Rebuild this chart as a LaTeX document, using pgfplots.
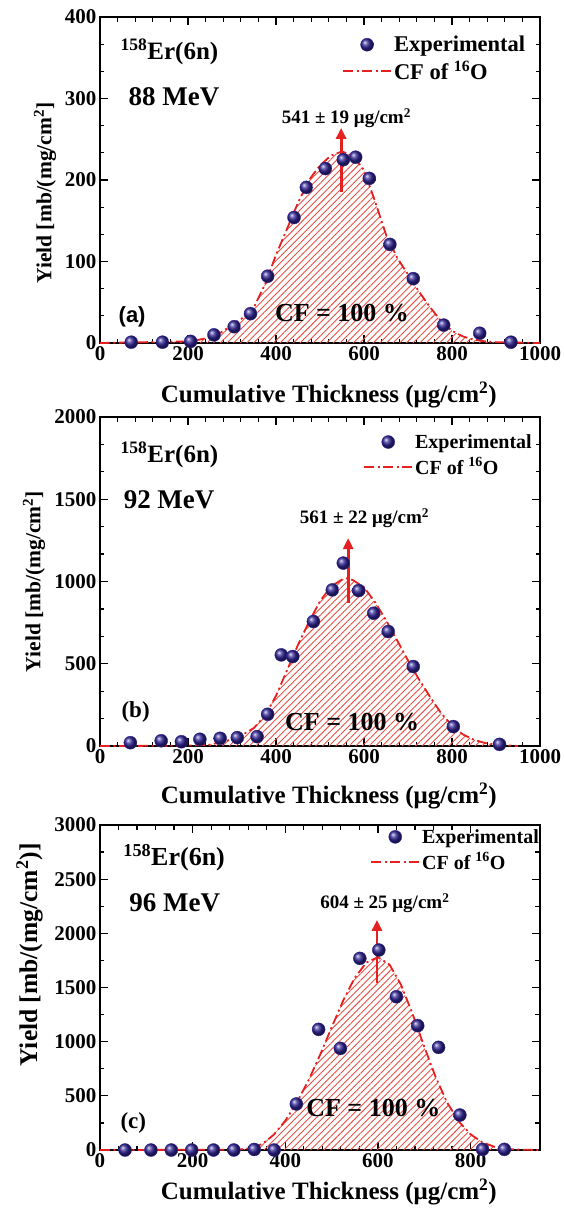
\documentclass[border=0pt]{standalone}
\usepackage{fontspec}
\setmainfont{Liberation Serif}
\newfontfamily\arialfont{Liberation Sans}
\usepackage{pgfplots}
\pgfplotsset{compat=1.18}
\usetikzlibrary{patterns.meta,arrows.meta}
\definecolor{ballblue}{RGB}{50,38,150}
\definecolor{cfred}{RGB}{228,32,32}
\definecolor{hatchred}{RGB}{232,80,70}

\pgfplotsset{
  panel/.style={
    scale only axis, width=440pt,
    axis line style={line width=1.8pt},
    every tick/.style={black, line width=1.3pt},
    major tick length=8pt, minor tick length=4.5pt,
    tick align=inside,
    xmin=0, ymin=0,
    /pgf/number format/assume math mode=true,
    /pgf/number format/1000 sep={},
    ticklabel style={font=\fontsize{21}{24}\selectfont\bfseries},
    xlabel={Cumulative Thickness (μg/cm\textsuperscript{2})},
    xlabel style={font=\fontsize{25}{30}\selectfont\bfseries, at={(axis description cs:0.52,0)}, anchor=center},
    clip=false,
    legend image code/.code={\draw[mark repeat=2,mark phase=2,##1] plot coordinates {(0pt,0pt) (24pt,0pt) (48pt,0pt)};},
    legend style={draw=none, fill=none, inner sep=0pt, row sep=4pt, anchor=north west},
    legend cell align=left,
  },
  curve/.style={cfred, line width=1.8pt, dash pattern=on 10pt off 3.5pt on 2pt off 3.5pt},
  hatch/.style={draw=none, pattern={Lines[angle=45,distance=4.7pt,line width=0.9pt]}, pattern color=hatchred},
  expt/.style={only marks, mark=ball, mark size=6.5pt, color=ballblue, mark options={ball color=ballblue}},
}

\begin{document}
\begin{tikzpicture}
\useasboundingbox (0pt,0pt) rectangle (563pt,-1208pt);

% ---------------- panel (a)
\begin{axis}[panel, at={(100pt,-343pt)}, anchor=south west, height=326pt,
  xmax=1000, ymax=400, xtick={0,200,...,1000}, ytick={0,100,...,400},
  minor x tick num=4, minor y tick num=2,
  xlabel style={yshift=-52pt},
  ylabel={Yield [mb/(mg/cm\textsuperscript{2}]},
  ylabel style={font=\fontsize{21.5}{26}\selectfont\bfseries, at={(axis description cs:-0.125,0.46)}, anchor=center},
  legend style={at={(axis description cs:0.55,0.948)}, font=\fontsize{22.5}{26}\selectfont\bfseries}]
\addlegendimage{expt}\addlegendentry{Experimental}
\addlegendimage{curve}\addlegendentry{CF of \textsuperscript{16}O}
\addplot[hatch, forget plot] coordinates {(0,0) (200,2) (225,4) (250,7) (275,13) (300,22) (325,31) (350,44) (375,72) (400,108) (425,140) (450,172) (475,200) (500,218) (525,230) (550,235) (575,230) (600,212) (625,174) (650,133) (675,105) (700,84) (725,63) (750,44) (775,27) (800,15) (825,8) (850,4) (875,2) (900,1) (1000,0)} \closedcycle;
\addplot[curve, forget plot] coordinates {(0,0) (200,2) (225,4) (250,7) (275,13) (300,22) (325,31) (350,44) (375,72) (400,108) (425,140) (450,172) (475,200) (500,218) (525,230) (550,235) (575,230) (600,212) (625,174) (650,133) (675,105) (700,84) (725,63) (750,44) (775,27) (800,15) (825,8) (850,4) (875,2) (900,1) (1000,0)};
\addplot[expt, forget plot] table {
x y
71 1
142 1
206 2
259 10
305 20
342 36
381 82
441 154
469 191
512 214
553 225
581 228
612 202
659 121
712 79
781 22
863 12
934 1
};
\draw[cfred, line width=2.8pt, -{Triangle[length=11pt,width=10pt]}] (axis cs:548,185) -- (axis cs:548,264);
\node[font=\fontsize{19}{22}\selectfont\bfseries] at (axis cs:560,276) {541 ± 19 μg/cm\textsuperscript{2}};
\node[font=\fontsize{26}{30}\selectfont\bfseries] at (axis cs:550,37) {CF = 100 \%};
\node[anchor=west, font=\fontsize{25}{30}\selectfont\bfseries] at (axis cs:39,357) {\textsuperscript{158}Er(6n)};
\node[anchor=west, font=\fontsize{27}{30}\selectfont\bfseries] at (axis cs:57,302) {88 MeV};
\node[font=\fontsize{22}{26}\selectfont\arialfont\bfseries] at (axis cs:73,32) {(a)};
\end{axis}

% ---------------- panel (b)
\begin{axis}[panel, at={(100pt,-746pt)}, anchor=south west, height=329pt,
  xmax=1000, ymax=2000, xtick={0,200,...,1000}, ytick={0,500,...,2000},
  minor x tick num=4, minor y tick num=2,
  xlabel style={yshift=-50pt},
  ylabel={Yield [mb/(mg/cm\textsuperscript{2}]},
  ylabel style={font=\fontsize{21.5}{26}\selectfont\bfseries, at={(axis description cs:-0.15,0.5)}, anchor=center},
  legend style={at={(axis description cs:0.598,0.954)}, font=\fontsize{20}{24}\selectfont\bfseries}]
\addlegendimage{expt}\addlegendentry{Experimental}
\addlegendimage{curve}\addlegendentry{CF of \textsuperscript{16}O}
\addplot[hatch, forget plot] coordinates {(0,0) (200,2) (250,8) (300,40) (325,70) (350,110) (375,185) (400,305) (425,460) (450,615) (475,755) (500,880) (525,970) (550,1012) (562,1020) (575,1008) (600,965) (625,875) (650,765) (675,644) (700,520) (725,405) (750,300) (775,200) (800,125) (825,70) (850,38) (875,18) (900,8) (950,0)} \closedcycle;
\addplot[curve, forget plot] coordinates {(0,0) (200,2) (250,8) (300,40) (325,70) (350,110) (375,185) (400,305) (425,460) (450,615) (475,755) (500,880) (525,970) (550,1012) (562,1020) (575,1008) (600,965) (625,875) (650,765) (675,644) (700,520) (725,405) (750,300) (775,200) (800,125) (825,70) (850,38) (875,18) (900,8) (950,0)};
\addplot[expt, forget plot] table {
x y
69 20
139 32
185 26
227 41
273 47
312 51
357 57
381 193
412 554
438 544
485 757
528 949
553 1112
588 945
622 807
655 696
712 483
803 118
908 10
};
\draw[cfred, line width=2.8pt, -{Triangle[length=11pt,width=10pt]}] (axis cs:564,869) -- (axis cs:564,1264);
\node[font=\fontsize{19}{22}\selectfont\bfseries] at (axis cs:601,1386) {561 ± 22 μg/cm\textsuperscript{2}};
\node[font=\fontsize{26}{30}\selectfont\bfseries] at (axis cs:573,146) {CF = 100 \%};
\node[anchor=west, font=\fontsize{25}{30}\selectfont\bfseries] at (axis cs:39,1769) {\textsuperscript{158}Er(6n)};
\node[anchor=west, font=\fontsize{27}{30}\selectfont\bfseries] at (axis cs:46,1495) {92 MeV};
\node[font=\fontsize{23}{26}\selectfont\bfseries] at (axis cs:81,207) {(b)};
\end{axis}

% ---------------- panel (c)
\begin{axis}[panel, at={(100pt,-1150pt)}, anchor=south west, height=325pt,
  xmax=950, ymax=3000, xtick={0,200,...,800}, ytick={0,500,...,3000},
  minor x tick num=4, minor y tick num=1,
  xlabel style={yshift=-42pt},
  ylabel={Yield [mb/(mg/cm\textsuperscript{2})]},
  ylabel style={font=\fontsize{25.5}{30}\selectfont\bfseries, at={(axis description cs:-0.16,0.6)}, anchor=center},
  legend style={at={(axis description cs:0.614,0.994)}, font=\fontsize{20}{24}\selectfont\bfseries}]
\addlegendimage{expt}\addlegendentry{Experimental}
\addlegendimage{curve}\addlegendentry{CF of \textsuperscript{16}O}
\addplot[hatch, forget plot] coordinates {(0,0) (300,3) (325,18) (350,55) (375,140) (400,270) (425,440) (450,641) (475,876) (500,1131) (525,1379) (550,1589) (575,1730) (600,1780) (625,1712) (650,1525) (675,1255) (700,955) (725,670) (750,435) (775,262) (800,145) (825,72) (850,32) (875,12) (900,4) (950,0)} \closedcycle;
\addplot[curve, forget plot] coordinates {(0,0) (300,3) (325,18) (350,55) (375,140) (400,270) (425,440) (450,641) (475,876) (500,1131) (525,1379) (550,1589) (575,1730) (600,1780) (625,1712) (650,1525) (675,1255) (700,955) (725,670) (750,435) (775,262) (800,145) (825,72) (850,32) (875,12) (900,4) (950,0)};
\addplot[expt, forget plot] table {
x y
54 0
110 0
154 0
198 0
245 0
289 0
333 5
376 0
424 425
472 1114
519 938
561 1769
602 1846
640 1415
686 1148
731 948
777 323
826 6
873 6
};
\draw[cfred, line width=2.8pt, -{Triangle[length=11pt,width=10pt]}] (axis cs:598,1542) -- (axis cs:598,2124);
\node[font=\fontsize{19}{22}\selectfont\bfseries] at (axis cs:615,2281) {604 ± 25 μg/cm\textsuperscript{2}};
\node[font=\fontsize{26}{30}\selectfont\bfseries] at (axis cs:590,388) {CF = 100 \%};
\node[anchor=west, font=\fontsize{26}{30}\selectfont\bfseries] at (axis cs:43,2696) {\textsuperscript{158}Er(6n)};
\node[anchor=west, font=\fontsize{27}{30}\selectfont\bfseries] at (axis cs:56,2281) {96 MeV};
\node[font=\fontsize{23}{26}\selectfont\bfseries] at (axis cs:72,249) {(c)};
\end{axis}
\end{tikzpicture}
\end{document}
